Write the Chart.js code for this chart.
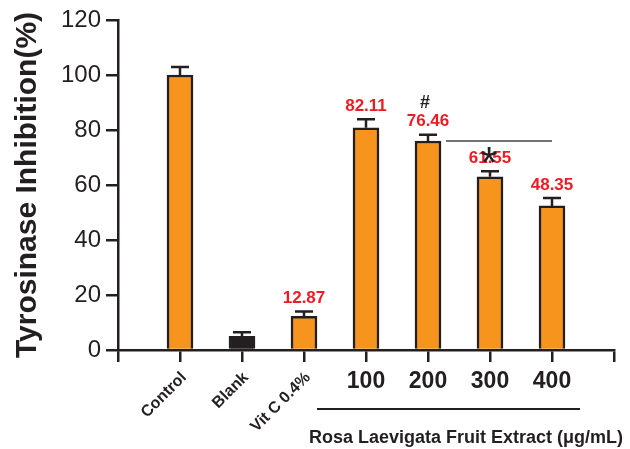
<!DOCTYPE html>
<html>
<head>
<meta charset="utf-8">
<script src="https://cdn.jsdelivr.net/npm/chart.js@4.4.1/dist/chart.umd.min.js"></script>
<style>
  html, body { margin: 0; padding: 0; background: #fff; }
  canvas { display: block; }
</style>
</head>
<body>
<canvas id="chart" width="630" height="449"></canvas>
<script>
// values
var categories = ['Control', 'Blank', 'Vit C 0.4%', '100', '200', '300', '400'];
var inhibition = [100, 5.0, 12.2, 80.8, 76.0, 63.0, 52.4];
var errors = [2.9, 1.5, 1.8, 3.1, 2.3, 2.0, 2.9];
var valueLabels = [null, null, '12.87', '82.11', '76.46', '61.55', '48.35'];
var rotatedCount = 3; // first three labels are slanted, the rest are doses
var groupTitle = 'Rosa Laevigata Fruit Extract (\u03bcg/mL)';
var yTitle = 'Tyrosinase Inhibition(%)';

var dark = '#231f20';
var orange = '#f7941d';
var red = '#ed1c24';
var fontFamily = '"Liberation Sans", Arial, Helvetica, sans-serif';

// an empty slot at each end, like the original axis
var labels = [''].concat(categories, ['']);
var values = [null].concat(inhibition, [null]);
var colors = ['rgba(0,0,0,0)'].concat(categories.map(function(c) {
  return c === 'Blank' ? dark : orange;
}), ['rgba(0,0,0,0)']);

var annotations = {
  id: 'annotations',
  afterDatasetsDraw: function(chart) {
    var ctx = chart.ctx;
    var x = chart.scales.x, y = chart.scales.y;
    ctx.save();

    // error bars
    ctx.strokeStyle = dark;
    ctx.lineWidth = 2.5;
    categories.forEach(function(c, i) {
      var px = x.getPixelForValue(i + 1);
      var top = y.getPixelForValue(inhibition[i]);
      var errTop = y.getPixelForValue(inhibition[i] + errors[i]);
      ctx.beginPath();
      ctx.moveTo(px, top);
      ctx.lineTo(px, errTop);
      ctx.moveTo(px - 9, errTop);
      ctx.lineTo(px + 9, errTop);
      ctx.stroke();
    });

    // red value labels
    ctx.fillStyle = red;
    ctx.font = 'bold 17px ' + fontFamily;
    ctx.textAlign = 'center';
    ctx.textBaseline = 'middle';
    valueLabels.forEach(function(t, i) {
      if (!t) return;
      var px = x.getPixelForValue(i + 1);
      var errTop = y.getPixelForValue(inhibition[i] + errors[i]);
      ctx.fillText(t, px, errTop - 13);
    });

    // "#" over 200
    var i200 = categories.indexOf('200');
    var p200 = x.getPixelForValue(i200 + 1);
    var l200 = y.getPixelForValue(inhibition[i200] + errors[i200]) - 13;
    ctx.fillStyle = dark;
    ctx.font = 'bold 18px ' + fontFamily;
    ctx.fillText('#', p200 - 3, l200 - 19);

    // significance line and star
    var i400 = categories.indexOf('400');
    var i300 = categories.indexOf('300');
    var lineY = y.getPixelForValue(inhibition[i200]);
    ctx.strokeStyle = '#444';
    ctx.lineWidth = 1.5;
    ctx.beginPath();
    ctx.moveTo(p200 + 18, lineY);
    ctx.lineTo(x.getPixelForValue(i400 + 1), lineY);
    ctx.stroke();
    ctx.font = '44px ' + fontFamily;
    ctx.textBaseline = 'alphabetic';
    ctx.fillText('*', x.getPixelForValue(i300 + 1) - 1, lineY + 12 + 25);

    // x tick labels
    var axisY = y.getPixelForValue(0);
    categories.forEach(function(c, i) {
      var px = x.getPixelForValue(i + 1);
      if (i < rotatedCount) {
        ctx.save();
        ctx.translate(px + 4, axisY + 25);
        ctx.rotate(-Math.PI / 4);
        ctx.font = 'bold 16px ' + fontFamily;
        ctx.textAlign = 'right';
        ctx.textBaseline = 'middle';
        ctx.fillText(c, 0, 0);
        ctx.restore();
      } else {
        ctx.font = 'bold 23px ' + fontFamily;
        ctx.textAlign = 'center';
        ctx.textBaseline = 'middle';
        ctx.fillText(c, px, axisY + 32);
      }
    });

    // group bracket and title
    var first = x.getPixelForValue(rotatedCount + 1);
    var last = x.getPixelForValue(categories.length);
    ctx.strokeStyle = dark;
    ctx.lineWidth = 2;
    ctx.beginPath();
    ctx.moveTo(first - 49, axisY + 59);
    ctx.lineTo(last + 28, axisY + 59);
    ctx.stroke();
    ctx.font = 'bold 18px ' + fontFamily;
    ctx.textAlign = 'center';
    ctx.textBaseline = 'middle';
    ctx.fillText(groupTitle, (first + last) / 2 + 7, axisY + 88);

    ctx.restore();
  }
};

Chart.defaults.font.family = fontFamily;
Chart.defaults.color = dark;

var chart = new Chart(document.getElementById('chart').getContext('2d'), {
  type: 'bar',
  data: {
    labels: labels,
    datasets: [{
      data: values,
      backgroundColor: colors,
      borderColor: dark,
      borderWidth: 2.5,
      borderSkipped: 'bottom',
      barThickness: 26
    }]
  },
  options: {
    responsive: false,
    animation: false,
    devicePixelRatio: 1,
    layout: { padding: { top: 20, right: 16, left: 0, bottom: 0 } },
    plugins: {
      legend: { display: false },
      tooltip: { enabled: false }
    },
    scales: {
      x: {
        offset: false,
        grid: {
          display: true,
          offset: false,
          drawOnChartArea: false,
          drawTicks: true,
          tickLength: 12,
          color: dark,
          lineWidth: 2.5
        },
        border: { display: true, color: dark, width: 2.5 },
        ticks: { display: false, autoSkip: false },
        afterFit: function(scale) { scale.height = 99; }
      },
      y: {
        min: 0,
        max: 120,
        ticks: {
          stepSize: 20,
          padding: 5,
          font: { size: 24 },
          color: dark
        },
        grid: {
          display: true,
          drawOnChartArea: false,
          drawTicks: true,
          tickLength: 12,
          color: dark,
          lineWidth: 2.5
        },
        border: { display: true, color: dark, width: 2.5 },
        title: {
          display: true,
          text: yTitle,
          font: { size: 30, weight: 'bold' },
          color: dark,
          padding: { top: 10, bottom: 0 }
        },
        afterFit: function(scale) { scale.width = 118; }
      }
    }
  },
  plugins: [annotations]
});
</script>
</body>
</html>
